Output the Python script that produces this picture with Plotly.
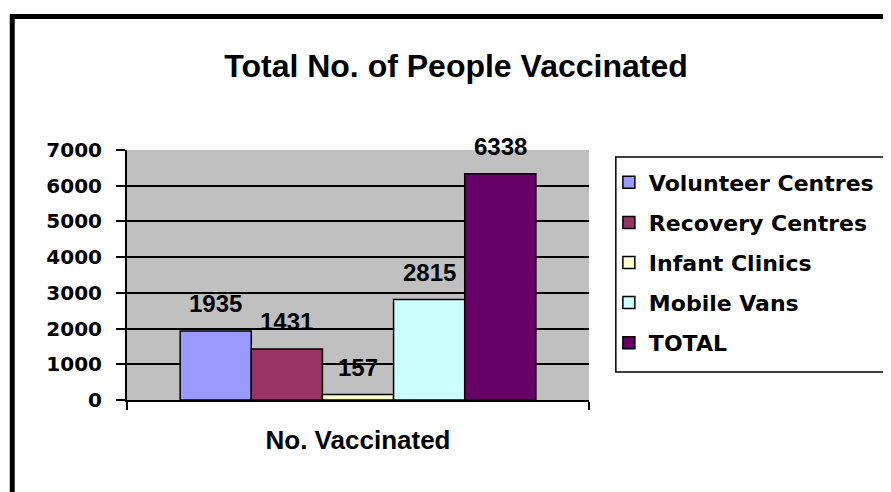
import plotly.graph_objects as go

# 数据
category = ["No. Vaccinated"]
series_names = ["Volunteer Centres", "Recovery Centres", "Infant Clinics", "Mobile Vans", "TOTAL"]
series_values = [1935, 1431, 157, 2815, 6338]
series_colors = ["#9999FF", "#993366", "#FFFFCC", "#CCFFFF", "#660066"]
y_ticks = [0, 1000, 2000, 3000, 4000, 5000, 6000, 7000]

# 页面 body 默认有 8px 边距，图尺寸减去它
OFF = 8
W, H = 891 - OFF, 492 - OFF
PL, PT, PR, PB = 127, 150, 592, 400  # 参考图中绘图区像素位置
L, T = PL - OFF, PT - OFF
R, B = W - (PR - OFF), H - (PB - OFF)
BARGAP = 0.23

pw, ph = W - L - R, H - T - B


def px_x(p):
    # 参考图像素 -> paper 坐标
    return (p - PL) / pw


def px_y(p):
    return (PB - p) / ph


fig = go.Figure()

for i, name in enumerate(series_names):
    fig.add_trace(
        go.Bar(
            x=category,
            y=[series_values[i]],
            name=name,
            legendgroup=name,
            marker=dict(color=series_colors[i], line=dict(color="black", width=1.5)),
            hoverinfo="name+y",
        )
    )

# 数据标签（柱顶上方）
n = len(series_names)
bar_w = (1 - BARGAP) / n
for i, v in enumerate(series_values):
    fig.add_annotation(
        x=-(1 - BARGAP) / 2 + bar_w * (i + 0.5),
        y=v,
        xref="x",
        yref="y",
        text=str(v),
        showarrow=False,
        yanchor="middle",
        yshift=27,
        font=dict(family="Liberation Sans, Arial", size=24, color="black", weight="bold"),
    )

# 外框
fig.add_shape(
    type="rect",
    xref="paper",
    yref="paper",
    x0=px_x(11.5),
    x1=px_x(905),
    y0=px_y(505),
    y1=px_y(16.5),
    line=dict(color="black", width=5),
    fillcolor="rgba(0,0,0,0)",
    layer="below",
)

# 图例外框
fig.add_shape(
    type="rect",
    xref="paper",
    yref="paper",
    x0=px_x(619),
    x1=px_x(900),
    y0=px_y(372),
    y1=px_y(157),
    line=dict(color="black", width=1.5),
    fillcolor="white",
    layer="below",
)

fig.update_layout(
    width=W,
    height=H,
    autosize=False,
    margin=dict(l=L, r=R, t=T, b=B),
    paper_bgcolor="white",
    plot_bgcolor="#C0C0C0",
    barmode="group",
    bargap=BARGAP,
    bargroupgap=0,
    title=dict(
        text="Total No. of People Vaccinated",
        x=(456 - OFF) / W,
        xanchor="center",
        y=1 - (66 - OFF) / H,
        yanchor="middle",
        font=dict(family="Liberation Sans, Arial", size=32, color="black", weight="bold"),
    ),
    xaxis=dict(
        type="category",
        showgrid=False,
        showline=True,
        linecolor="black",
        linewidth=2,
        ticks="outside",
        tickson="boundaries",
        ticklen=8,
        tickcolor="black",
        tickwidth=1.5,
        ticklabelstandoff=16,
        tickfont=dict(family="Liberation Sans, Arial", size=26, color="black", weight="bold"),
    ),
    yaxis=dict(
        range=[0, 7000],
        tickvals=y_ticks,
        showgrid=True,
        gridcolor="black",
        gridwidth=1.5,
        zeroline=False,
        showline=True,
        linecolor="black",
        linewidth=2,
        ticks="outside",
        ticklen=9,
        tickcolor="black",
        tickwidth=1.5,
        ticklabelstandoff=10,
        tickfont=dict(family="DejaVu Sans", size=20, color="black", weight="bold"),
    ),
    showlegend=True,
    legend=dict(
        x=px_x(612),
        y=px_y(161.5),
        xanchor="left",
        yanchor="top",
        bgcolor="rgba(0,0,0,0)",
        borderwidth=0,
        traceorder="grouped",
        tracegroupgap=8.5,
        font=dict(family="DejaVu Sans", size=22, color="black", weight="bold"),
    ),
)

fig.write_html("out.html")
